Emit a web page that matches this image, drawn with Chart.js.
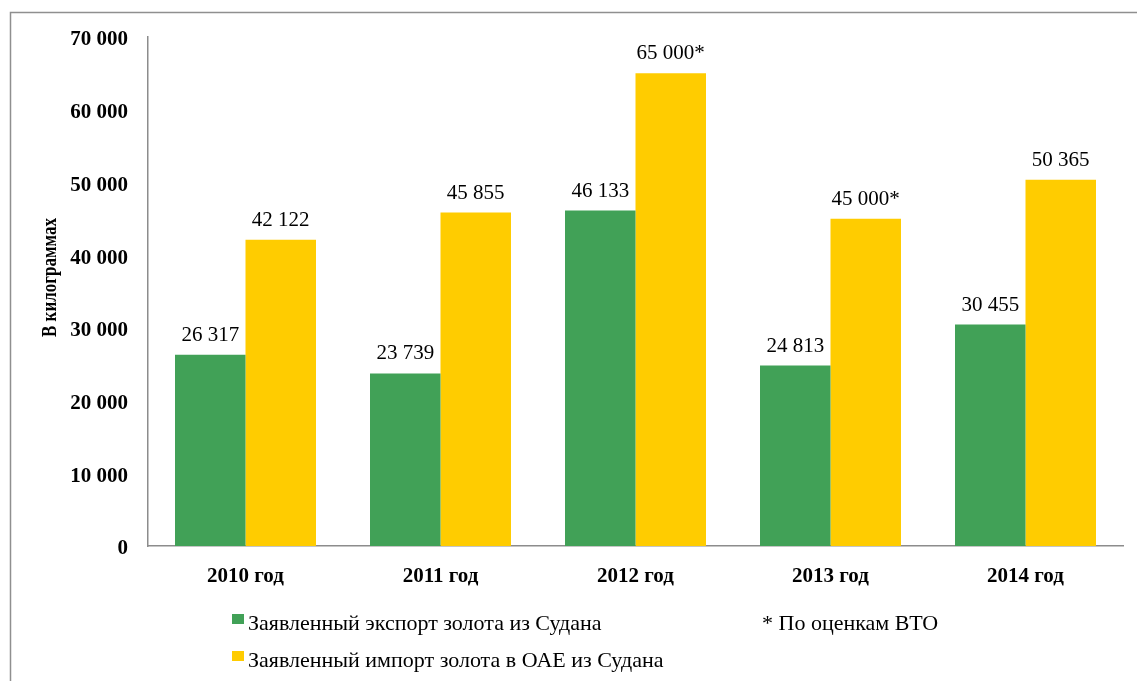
<!DOCTYPE html>
<html>
<head>
<meta charset="utf-8">
<script src="https://cdn.jsdelivr.net/npm/chart.js@4.4.1/dist/chart.umd.min.js"></script>
<style>
  html, body { margin: 0; padding: 0; background: #ffffff; }
  #wrap { position: relative; width: 1137px; height: 681px; }
</style>
</head>
<body>
<div id="wrap"><canvas id="c"></canvas></div>
<script>
// ---- data ----
const categories = ['2010 год', '2011 год', '2012 год', '2013 год', '2014 год'];
const exportValues = [26317, 23739, 46133, 24813, 30455];
const importValues = [42122, 45855, 65000, 45000, 50365];
const exportEstimated = [false, false, false, false, false];
const importEstimated = [false, false, true, true, false];
const seriesNames = ['Заявленный экспорт золота из Судана', 'Заявленный импорт золота в ОАЕ из Судана'];
const yAxisTitle = 'В килограммах';
const footnote = '* По оценкам ВТО';
const yMin = 0, yMax = 70000, yStep = 10000;

const GREEN = '#41A157';
const YELLOW = '#FFCC00';
const AXIS = '#8c8c8c';
const SERIF = '"Liberation Serif", "Times New Roman", serif';

function fmt(n) {
  return String(n).replace(/\B(?=(\d{3})+(?!\d))/g, ' ');
}

const estimatedFlags = [exportEstimated, importEstimated];

const decorPlugin = {
  id: 'decor',
  beforeDraw(chart) {
    const ctx = chart.ctx;
    ctx.save();
    ctx.strokeStyle = '#8f8f8f';
    ctx.lineWidth = 1.5;
    ctx.beginPath();
    ctx.moveTo(10.5, 700);
    ctx.lineTo(10.5, 12.5);
    ctx.lineTo(1200, 12.5);
    ctx.stroke();
    ctx.restore();
  },
  afterDatasetsDraw(chart) {
    const ctx = chart.ctx;
    ctx.save();
    ctx.font = '21px ' + SERIF;
    ctx.fillStyle = '#000';
    ctx.textAlign = 'center';
    ctx.textBaseline = 'alphabetic';
    chart.data.datasets.forEach((ds, di) => {
      const meta = chart.getDatasetMeta(di);
      meta.data.forEach((bar, i) => {
        const txt = fmt(ds.data[i]) + (estimatedFlags[di][i] ? '*' : '');
        ctx.fillText(txt, bar.x, bar.y - 14);
      });
    });
    ctx.restore();
  },
  afterDraw(chart) {
    const ctx = chart.ctx;
    ctx.save();
    // y-axis title (condensed, rotated)
    ctx.font = 'bold 20px ' + SERIF;
    ctx.fillStyle = '#000';
    const tw = ctx.measureText(yAxisTitle).width;
    const target = 119;
    ctx.translate(51, 277.5);
    ctx.rotate(-Math.PI / 2);
    ctx.scale(target / tw, 1);
    ctx.textAlign = 'center';
    ctx.textBaseline = 'middle';
    ctx.fillText(yAxisTitle, 0, 0);
    ctx.restore();

    ctx.save();
    ctx.font = '22px ' + SERIF;
    ctx.textAlign = 'left';
    ctx.textBaseline = 'alphabetic';
    const colors = [GREEN, YELLOW];
    const squares = [614, 651];
    const baselines = [630, 667];
    seriesNames.forEach((name, i) => {
      ctx.fillStyle = colors[i];
      ctx.fillRect(232, squares[i], 12, 10);
      ctx.fillStyle = '#000';
      ctx.fillText(name, 248, baselines[i]);
    });
    ctx.fillText(footnote, 762, baselines[0]);
    ctx.restore();
  }
};

new Chart(document.getElementById('c'), {
  type: 'bar',
  data: {
    labels: categories,
    datasets: [
      { label: seriesNames[0], data: exportValues, backgroundColor: GREEN, borderWidth: 0 },
      { label: seriesNames[1], data: importValues, backgroundColor: YELLOW, borderWidth: 0 }
    ]
  },
  options: {
    responsive: true,
    maintainAspectRatio: false,
    animation: false,
    events: [],
    layout: { padding: { left: 0, top: 37, right: 14, bottom: 0 } },
    datasets: { bar: { categoryPercentage: 0.723, barPercentage: 1.0 } },
    plugins: { legend: { display: false }, tooltip: { enabled: false } },
    scales: {
      x: {
        grid: { display: false, drawTicks: false },
        border: { display: true, color: AXIS, width: 1.5 },
        ticks: { color: '#000', font: { family: SERIF, size: 21, weight: 'bold' }, padding: 18, maxRotation: 0 },
        afterFit(scale) { scale.height = 681 - 546; }
      },
      y: {
        min: yMin, max: yMax,
        grid: { display: false, drawTicks: false },
        border: { display: true, color: AXIS, width: 1.5 },
        ticks: {
          stepSize: yStep, color: '#000', padding: 20, labelOffset: 3,
          font: { family: SERIF, size: 21, weight: 'bold' },
          callback: (v) => fmt(v)
        },
        title: { display: false },
        afterFit(scale) { scale.width = 148; }
      }
    }
  },
  plugins: [decorPlugin]
});
</script>
</body>
</html>
